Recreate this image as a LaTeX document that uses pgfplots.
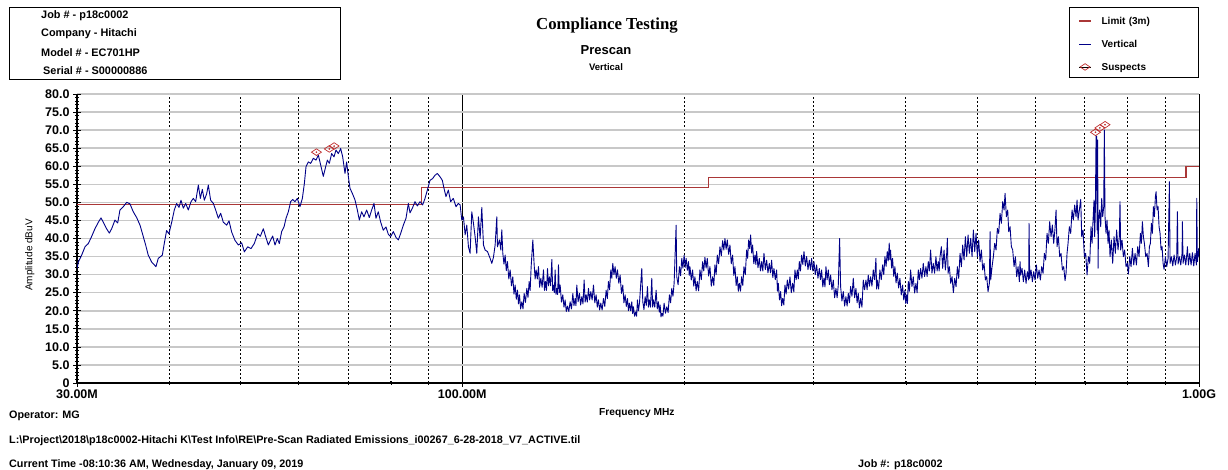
\documentclass[border=0pt]{standalone}
\usepackage{fontspec}
\setmainfont{Liberation Sans}
\newfontfamily\titlefont{Liberation Serif}
\usepackage{pgfplots}
\pgfplotsset{compat=1.18}
\definecolor{limitred}{RGB}{170,55,55}
\definecolor{tracecol}{RGB}{0,0,135}
\definecolor{suspred}{RGB}{190,45,45}
\definecolor{gridgray}{RGB}{200,200,200}
\pgfplotsset{
  shortline/.style={legend image code/.code={\draw[##1] (0pt,-1.5pt) -- (12pt,-1.5pt);}},
  markonly/.style={legend image code/.code={\path (0pt,-1.5pt) -- (12pt,-1.5pt); \draw[##1] plot coordinates {(6pt,-1.5pt)};}},
}
\begin{document}
\begin{tikzpicture}[x=1pt,y=1pt]
\path[use as bounding box] (0,0) rectangle (1228,470);
% info box
\draw[line width=0.9pt] (9,463) rectangle (340,391);
\begin{scope}[every node/.style={anchor=west,inner sep=0pt,font=\fontsize{10.9}{12}\selectfont\bfseries}]
\node at (41,454) {Job \# - p18c0002};
\node at (41,436) {Company - Hitachi};
\node at (41,417.5) {Model \# - EC701HP};
\node at (43,399) {Serial \# - S00000886};
\end{scope}
% titles
\node[inner sep=0pt,font=\fontsize{16.8}{20}\selectfont\titlefont\bfseries] at (607,444) {Compliance Testing};
\node[inner sep=0pt,font=\fontsize{13}{15}\selectfont\bfseries] at (606,420) {Prescan};
\node[inner sep=0pt,font=\fontsize{9.5}{11}\selectfont\bfseries] at (606,403) {Vertical};
% footer
\begin{scope}[every node/.style={anchor=west,inner sep=0pt,font=\fontsize{10.8}{12}\selectfont\bfseries}]
\node at (9,54) {Operator: MG};
\node at (9,29) {L:\textbackslash Project\textbackslash 2018\textbackslash p18c0002-Hitachi K\textbackslash Test Info\textbackslash RE\textbackslash Pre-Scan Radiated Emissions\_i00267\_6-28-2018\_V7\_ACTIVE.til};
\node at (9,5) {Current Time -08:10:36 AM, Wednesday, January 09, 2019};
\node at (858,5) {Job \#: p18c0002};
\end{scope}
\begin{axis}[
  at={(77pt,87pt)}, anchor=south west,
  width=1122pt, height=289pt, scale only axis,
  xmode=log, xmin=30, xmax=1000, ymin=0, ymax=80,
  axis x line*=bottom, axis y line*=left,
  x axis line style={line width=1.5pt},
  y axis line style={line width=0.8pt},
  xtick={30,100,1000}, xticklabels={30.00M,100.00M,1.00G},
  minor xtick={40,50,60,70,80,90,200,300,400,500,600,700,800,900},
  ytick={0,5,...,80},
  yticklabels={0,5.0,10.0,15.0,20.0,25.0,30.0,35.0,40.0,45.0,50.0,55.0,60.0,65.0,70.0,75.0,80.0},
  minor y tick num=4,
  tick align=center, major tick length=8pt, minor tick length=4pt,
  tick style={black, line width=0.7pt},
  xmajorgrids, xminorgrids, ymajorgrids,
  major x grid style={black, line width=1.1pt},
  minor x grid style={black, line width=0.9pt, dash pattern=on 2pt off 2pt},
  major y grid style={gridgray, line width=1.6pt},
  tick label style={font=\fontsize{12.5}{14}\selectfont\bfseries},
  xticklabel style={yshift=1pt},
  xlabel={Frequency MHz},
  xlabel style={at={(axis description cs:0.499,-0.104)}, anchor=center, font=\fontsize{10.2}{12}\selectfont\bfseries},
  ylabel={Amplitude dBuV},
  ylabel style={at={(axis description cs:-0.042,0.443)}, anchor=center, font=\fontsize{10}{12}\selectfont},
  legend style={at={(axis description cs:1,1.301)}, anchor=north east, draw=black, line width=0.9pt,
    font=\fontsize{10}{12}\selectfont\bfseries, row sep=13pt, column sep=8pt, inner xsep=9pt, inner ysep=7pt,
    nodes={text width=86pt, align=left, inner ysep=0pt, text height=10pt, text depth=0pt}},
  legend cell align=left,
]
\addplot[limitred, line width=1.1pt, shortline] table[row sep=\\] {
x y \\ 30 49.5 \\ 88 49.5 \\ 88 54 \\ 216 54 \\ 216 56.9 \\ 960 56.9 \\ 960 60 \\ 1000 60 \\
};
\addlegendentry{Limit (3m)}
\addplot[tracecol, line width=0.9pt, line join=round, shortline] table[row sep=\\] {
x y \\
30.00 31.7 \\ 30.13 33.5 \\ 30.44 35.4 \\ 30.76 37.7 \\ 31.08 38.6 \\ 31.41 40.6 \\ 31.73 42.7 \\ 32.07 44.5 \\
32.34 45.7 \\ 32.57 44.5 \\ 32.91 42.7 \\ 33.19 41.5 \\ 33.43 42.7 \\ 33.78 45.1 \\ 34.07 44.3 \\ 34.31 47.9 \\
34.67 48.8 \\ 35.04 50.0 \\ 35.40 49.6 \\ 35.77 47.4 \\ 36.15 45.8 \\ 36.53 43.7 \\ 36.91 40.5 \\ 37.18 38.2 \\
37.48 35.4 \\ 37.88 33.5 \\ 38.40 32.2 \\ 38.68 34.5 \\ 39.17 35.4 \\ 39.41 38.6 \\ 39.70 42.2 \\ 39.99 41.3 \\
40.33 44.5 \\ 40.66 47.9 \\ 40.96 49.7 \\ 41.26 48.6 \\ 41.52 50.6 \\ 41.82 48.4 \\ 42.13 49.7 \\ 42.48 47.9 \\
42.84 50.2 \\ 43.15 51.1 \\ 43.47 50.2 \\ 43.83 54.8 \\ 44.11 51.1 \\ 44.38 53.6 \\ 44.66 50.6 \\ 44.99 52.4 \\
45.22 54.8 \\ 45.55 50.6 \\ 45.94 49.7 \\ 46.27 47.9 \\ 46.66 45.6 \\ 47.00 47.0 \\ 47.39 44.5 \\ 47.89 43.7 \\
48.24 44.9 \\ 48.64 41.8 \\ 49.15 39.5 \\ 49.67 38.2 \\ 50.19 38.8 \\ 50.61 36.3 \\ 51.14 37.7 \\ 51.67 37.2 \\
52.21 38.6 \\ 52.76 41.3 \\ 53.20 40.6 \\ 53.70 42.7 \\ 54.10 40.5 \\ 54.55 38.2 \\
54.83 39.2 \\ 55.29 40.7 \\ 55.70 38.2 \\ 56.10 40.0 \\ 56.46 38.6 \\ 56.87 41.9 \\ 57.29 43.2 \\ 57.65 45.6 \\
58.07 47.4 \\ 58.49 50.2 \\ 58.86 50.8 \\ 59.29 50.2 \\ 59.73 51.1 \\ 60.22 48.8 \\ 60.67 51.1 \\ 61.05 55.2 \\
61.37 59.9 \\ 61.82 61.2 \\ 62.27 60.8 \\ 62.79 62.2 \\ 63.32 61.7 \\ 63.78 63.1 \\ 64.25 60.3 \\ 64.78 57.2 \\
65.26 59.9 \\ 65.60 61.7 \\ 66.01 60.8 \\ 66.49 63.5 \\ 66.98 62.6 \\ 67.40 64.5 \\ 67.89 63.5 \\ 68.39 64.9 \\
68.82 62.6 \\ 69.32 58.0 \\ 69.68 61.2 \\ 70.05 57.1 \\ 70.41 53.9 \\ 70.93 52.5 \\ 71.52 50.7 \\ 72.05 47.9 \\
72.50 45.1 \\ 73.03 47.4 \\ 73.56 46.0 \\ 74.18 47.9 \\ 74.80 45.8 \\ 75.35 47.9 \\ 75.90 49.7 \\ 76.37 45.6 \\
76.93 47.4 \\ 77.49 44.6 \\ 78.14 42.3 \\ 78.80 43.2 \\ 79.37 41.2 \\ 79.95 40.5 \\ 80.62 41.9 \\ 81.30 40.3 \\
81.89 39.6 \\ 82.49 41.4 \\ 83.18 43.7 \\ 83.88 45.6 \\ 84.49 49.7 \\ 84.93 47.1 \\ 85.64 48.6 \\ 86.27 50.2 \\
86.90 49.0 \\ 87.63 50.2 \\ 88.36 49.3 \\ 89.01 51.1 \\ 89.66 53.4 \\ 90.41 56.1 \\ 91.16 56.6 \\ 91.83 57.5 \\
92.50 58.0 \\ 93.28 57.1 \\ 93.96 56.1 \\ 94.45 53.9 \\ 95.04 51.6 \\ 95.74 53.4 \\ 96.44 50.2 \\ 97.24 51.1 \\
98.06 48.8 \\ 98.77 49.7 \\
99.33 49.3 \\ 99.85 45.1 \\ 100.37 46.0 \\ 100.90 41.0 \\ 101.42 43.7 \\ 101.95 37.7 \\ 102.48 35.9 \\ 103.02 47.4 \\
103.56 44.2 \\ 104.10 40.5 \\ 104.64 35.9 \\ 105.19 46.0 \\ 105.74 40.0 \\ 106.29 48.6 \\ 106.85 38.2 \\ 107.41 36.8 \\
108.19 36.4 \\ 109.10 34.5 \\ 109.67 33.1 \\ 110.24 34.8 \\ 110.82 38.2 \\ 111.40 46.0 \\ 111.63 37.7 \\ 112.33 39.6 \\
112.80 36.8 \\ 113.15 42.4 \\ 113.51 35.9 \\ 113.92 32.9 \\ 114.34 35.4 \\ 114.75 31.1 \\ 115.17 33.6 \\ 115.65 28.8 \\
116.14 31.3 \\ 116.62 26.9 \\ 117.11 29.4 \\ 117.54 24.6 \\ 117.97 27.1 \\ 118.40 23.2 \\ 118.83 25.7 \\ 119.20 21.9 \\
119.58 24.4 \\ 120.01 20.5 \\ 120.45 22.5 \\ 120.90 20.5 \\ 121.34 24.8 \\ 121.84 22.3 \\ 122.35 26.2 \\ 122.80 23.7 \\
123.25 28.1 \\ 123.63 25.6 \\ 124.02 32.2 \\ 124.67 39.6 \\ 125.19 32.7 \\ 125.58 28.8 \\ 125.97 31.3 \\ 126.43 28.8 \\
126.89 32.2 \\ 127.35 26.5 \\ 127.82 29.0 \\ 128.35 26.5 \\ 128.89 31.3 \\ 129.30 25.6 \\ 129.70 28.1 \\ 130.11 25.6 \\
130.52 31.7 \\ 130.92 26.9 \\ 131.33 29.4 \\ 131.80 26.9 \\ 132.30 34.2 \\ 132.65 25.6 \\ 132.99 27.1 \\ 133.33 25.0 \\
133.68 31.3 \\ 134.03 24.5 \\ 134.38 26.2 \\ 134.73 24.5 \\ 135.08 32.7 \\ 135.43 25.0 \\ 135.79 27.1 \\ 136.35 22.4 \\
136.92 24.4 \\ 137.42 21.0 \\ 137.92 23.0 \\ 138.42 19.8 \\ 138.93 21.3 \\ 139.51 19.8 \\ 140.09 22.5 \\ 140.68 20.5 \\
141.27 24.8 \\ 141.78 21.4 \\ 142.30 23.4 \\ 142.67 21.4 \\ 143.04 27.1 \\ 143.64 22.5 \\ 144.24 24.8 \\ 144.77 21.6 \\
145.30 23.9 \\ 145.83 21.9 \\ 146.36 28.5 \\ 146.82 22.4 \\ 147.28 24.4 \\ 147.82 22.4 \\ 148.36 26.2 \\ 148.90 23.0 \\
149.44 25.3 \\ 150.06 23.0 \\ 150.69 27.1 \\ 151.32 22.2 \\ 151.95 24.4 \\ 152.50 21.0 \\ 153.06 23.0 \\ 153.62 20.2 \\
154.18 22.1 \\ 154.82 20.2 \\ 155.47 23.4 \\ 156.12 21.2 \\ 156.77 25.7 \\ 157.35 23.4 \\ 157.92 28.1 \\ 158.50 25.8 \\
159.08 31.3 \\ 159.58 29.0 \\ 160.07 33.1 \\ 160.65 30.0 \\ 161.24 32.2 \\ 161.84 29.0 \\ 162.43 31.3 \\ 163.11 27.6 \\
163.79 29.9 \\ 164.47 24.8 \\ 165.15 27.1 \\ 165.75 22.2 \\ 166.36 24.4 \\ 166.97 21.2 \\ 167.58 23.4 \\ 168.10 20.0 \\
168.63 22.1 \\ 169.25 20.0 \\ 169.87 22.5 \\ 170.31 19.2 \\ 170.75 21.1 \\ 171.38 18.5 \\ 172.00 19.7 \\ 172.45 18.5 \\
172.90 23.0 \\ 173.45 20.0 \\ 173.99 22.1 \\ 175.26 31.7 \\ 175.81 22.5 \\ 176.45 20.3 \\ 177.10 23.9 \\ 177.75 21.5 \\
178.39 26.7 \\ 178.95 21.0 \\ 179.51 23.0 \\ 180.10 21.0 \\ 180.82 29.0 \\ 181.30 21.0 \\ 181.77 23.0 \\ 182.53 21.0 \\
183.29 25.7 \\ 183.96 20.5 \\ 184.63 22.5 \\ 185.10 19.6 \\ 185.60 21.6 \\ 186.10 18.3 \\ 186.57 19.3 \\ 187.25 18.5 \\
187.93 22.1 \\ 188.72 19.3 \\ 189.51 21.1 \\ 190.30 19.5 \\ 191.09 24.4 \\ 191.79 22.2 \\ 192.49 26.2 \\ 193.20 24.0 \\
193.90 27.6 \\ 195.11 43.7 \\ 195.52 29.4 \\ 196.34 27.2 \\ 197.16 32.2 \\ 197.88 29.7 \\ 198.60 34.5 \\ 199.32 31.8 \\
200.05 35.4 \\ 200.68 32.0 \\ 201.31 34.5 \\ 202.05 31.2 \\ 202.78 33.6 \\ 203.25 29.8 \\
203.71 32.2 \\ 204.56 28.5 \\ 205.41 31.3 \\ 206.16 26.8 \\ 206.92 29.4 \\ 207.68 25.5 \\ 208.43 28.1 \\ 209.30 25.5 \\
210.18 31.3 \\ 211.06 28.6 \\ 211.94 33.6 \\ 212.70 31.0 \\ 213.49 34.8 \\ 214.27 31.8 \\ 215.05 34.5 \\ 215.95 29.6 \\
216.86 32.2 \\ 217.76 26.8 \\ 218.67 29.4 \\ 219.47 27.0 \\ 220.27 32.7 \\ 221.08 30.0 \\ 221.89 35.4 \\ 222.82 33.0 \\
223.75 37.7 \\ 224.68 35.2 \\ 225.62 39.4 \\ 226.45 36.8 \\ 227.27 40.0 \\ 228.10 37.0 \\ 228.94 39.6 \\ 229.90 35.6 \\
230.85 38.2 \\ 231.80 33.0 \\ 232.78 35.4 \\ 233.63 29.8 \\ 234.49 32.2 \\ 235.35 27.0 \\ 236.20 29.4 \\ 236.95 25.4 \\
237.69 27.6 \\ 238.56 25.4 \\ 239.43 29.4 \\ 240.30 27.0 \\ 241.18 32.2 \\ 242.19 30.0 \\ 243.20 36.8 \\ 243.96 34.5 \\
244.73 39.6 \\ 245.50 37.2 \\ 246.26 41.0 \\ 247.03 36.0 \\ 247.81 38.2 \\ 248.70 33.0 \\ 249.62 35.4 \\ 250.27 32.8 \\
250.92 36.4 \\ 251.97 31.9 \\ 253.02 34.5 \\ 253.95 31.0 \\ 254.88 33.6 \\ 255.81 31.0 \\ 256.74 35.9 \\ 257.80 31.4 \\
258.89 34.0 \\ 259.97 30.5 \\ 261.05 33.1 \\ 262.00 30.5 \\ 262.96 34.0 \\ 263.92 29.2 \\ 264.89 31.7 \\ 266.00 28.6 \\
267.11 31.3 \\ 267.80 25.4 \\ 268.50 27.6 \\ 269.50 23.0 \\ 270.47 25.3 \\ 271.30 21.4 \\ 272.16 23.4 \\ 273.15 21.6 \\
274.15 27.1 \\ 275.15 24.6 \\ 276.16 28.5 \\ 277.30 26.0 \\ 278.47 29.4 \\ 279.63 25.0 \\ 280.80 27.6 \\ 281.83 25.2 \\
282.86 31.3 \\ 283.90 28.6 \\ 284.93 31.3 \\ 285.82 28.8 \\ 286.71 33.6 \\ 287.76 31.0 \\ 288.81 35.4 \\ 289.87 32.8 \\
290.93 36.4 \\ 292.15 32.4 \\ 293.36 35.0 \\ 294.60 31.4 \\ 295.82 34.0 \\ 296.90 31.4 \\ 297.98 34.5 \\ 299.07 31.0 \\
300.16 33.6 \\ 301.40 30.0 \\ 302.67 32.7 \\ 303.93 29.0 \\ 305.20 31.7 \\ 306.32 28.6 \\ 307.44 31.3 \\ 308.56 26.6 \\
309.69 29.0 \\ 310.66 26.6 \\ 311.63 32.2 \\ 312.77 28.6 \\ 313.91 31.3 \\ 315.06 27.2 \\ 316.21 29.9 \\ 317.53 25.8 \\
318.85 28.5 \\ 320.18 23.6 \\ 321.52 26.2 \\ 322.70 23.6 \\ 323.87 27.1 \\ 325.22 40.0 \\ 326.24 26.7 \\ 327.60 22.7 \\
328.97 25.3 \\ 330.35 21.3 \\ 331.72 23.9 \\ 332.93 21.3 \\ 334.15 24.8 \\ 335.37 22.2 \\ 336.59 26.7 \\ 338.00 24.0 \\
339.41 29.0 \\ 340.83 23.6 \\ 342.25 26.2 \\ 343.50 22.2 \\ 344.75 24.8 \\ 346.00 20.8 \\ 347.28 23.4 \\ 348.73 21.0 \\
350.18 28.5 \\ 351.65 25.8 \\ 353.11 28.5 \\ 354.40 25.8 \\ 355.70 29.9 \\ 357.00 26.8 \\ 358.30 29.4 \\ 359.80 26.8 \\
361.29 31.3 \\ 362.80 28.6 \\ 364.32 34.5 \\ 365.08 26.0 \\ 365.84 28.5 \\ 367.37 26.0 \\ 368.90 31.3 \\ 370.44 28.6 \\
371.98 32.7 \\ 373.35 30.0 \\ 374.71 35.0 \\ 376.08 32.3 \\ 377.45 36.4 \\ 378.63 33.8 \\ 379.82 38.7 \\ 380.60 34.2 \\
381.40 36.8 \\ 382.60 31.8 \\ 383.80 34.5 \\ 385.20 29.5 \\ 386.60 32.2 \\ 388.00 27.7 \\ 389.43 30.4 \\ 391.06 26.3 \\
392.69 29.0 \\ 394.33 24.4 \\ 395.97 27.1 \\ 397.42 23.0 \\ 398.87 25.7 \\ 399.90 22.0 \\ 400.95 24.4 \\ 402.00 22.0 \\
403.05 28.1 \\ 404.50 25.4 \\ 406.00 31.3 \\ 407.70 26.7 \\ 409.39 29.4 \\ 411.10 24.9 \\ 412.82 27.6 \\ 414.33 25.0 \\
415.84 31.3 \\ 417.36 28.6 \\ 418.88 31.7 \\ 420.63 29.0 \\ 422.38 33.1 \\ 424.15 29.5 \\ 425.92 32.2 \\ 427.47 29.5 \\
429.03 33.6 \\ 430.60 31.0 \\ 432.17 36.8 \\ 434.00 30.4 \\ 435.79 33.1 \\ 437.60 30.4 \\ 439.43 35.0 \\ 441.04 31.0 \\
442.65 33.6 \\ 443.90 31.0 \\
445.10 34.97 \\ 446.96 37.74 \\ 448.82 31.74 \\ 450.70 36.82 \\ 452.58 31.28 \\ 454.47 35.89 \\ 455.42 40.05 \\ 456.37 30.36 \\
458.28 32.20 \\ 460.19 27.59 \\ 462.11 29.44 \\ 464.04 25.01 \\ 465.98 28.97 \\ 467.92 26.67 \\ 469.88 32.20 \\ 471.84 28.97 \\
473.81 35.89 \\ 475.79 32.20 \\ 477.77 38.20 \\ 479.77 34.05 \\ 481.77 40.51 \\ 483.79 34.97 \\ 485.81 40.97 \\ 487.83 35.89 \\
489.87 40.05 \\ 491.92 34.97 \\ 493.97 42.35 \\ 496.04 36.36 \\ 498.11 41.43 \\ 500.19 34.97 \\ 502.28 39.58 \\ 504.37 33.59 \\
506.48 36.82 \\ 508.59 31.28 \\ 510.72 33.13 \\ 512.85 28.51 \\ 514.99 29.44 \\ 517.14 25.28 \\ 519.30 27.59 \\ 520.39 41.89 \\
521.47 28.51 \\ 523.65 32.20 \\ 525.84 34.97 \\ 528.03 38.66 \\ 530.24 36.82 \\ 532.45 42.81 \\ 534.67 41.43 \\ 536.91 46.97 \\
539.15 44.20 \\ 541.40 50.20 \\ 543.66 47.89 \\ 545.36 52.50 \\ 547.64 46.04 \\ 549.93 47.89 \\ 551.65 41.89 \\ 553.95 43.28 \\
556.27 37.74 \\ 558.59 36.82 \\ 560.92 32.20 \\ 563.26 34.97 \\ 565.62 29.44 \\ 567.98 32.20 \\ 570.35 28.05 \\ 571.54 33.59 \\
572.73 29.90 \\ 575.12 31.74 \\ 577.52 28.05 \\ 579.94 31.28 \\ 582.36 27.59 \\ 584.79 30.82 \\ 587.23 28.51 \\ 587.84 44.20 \\
589.07 28.97 \\ 591.53 31.28 \\ 594.00 28.05 \\ 596.48 30.82 \\ 598.97 28.51 \\ 601.47 32.66 \\ 603.98 29.00 \\ 606.51 31.28 \\
609.04 28.51 \\ 611.58 32.20 \\ 614.14 30.36 \\ 616.70 35.89 \\ 619.28 34.05 \\ 621.86 41.43 \\ 624.46 38.66 \\ 627.07 44.66 \\
629.69 40.51 \\ 632.32 43.74 \\ 634.96 38.66 \\ 637.61 42.81 \\ 639.61 47.89 \\ 641.61 37.74 \\ 644.29 40.51 \\ 646.98 34.97 \\
649.68 35.89 \\ 652.39 31.28 \\ 655.12 32.20 \\ 657.85 28.33 \\ 659.91 30.36 \\ 661.98 35.89 \\ 664.05 38.66 \\ 666.83 43.28 \\
669.61 41.43 \\ 672.41 47.89 \\ 675.22 45.12 \\ 678.04 49.27 \\ 680.87 46.04 \\ 683.00 50.66 \\ 685.14 45.12 \\ 688.00 47.89 \\
690.87 50.84 \\ 693.04 40.51 \\ 695.93 42.35 \\ 698.84 34.97 \\ 701.75 35.89 \\ 704.68 29.90 \\ 707.63 34.97 \\ 710.58 33.13 \\
713.55 43.28 \\ 715.78 38.66 \\ 718.03 45.12 \\ 720.27 50.66 \\ 721.78 40.51 \\ 723.28 47.89 \\ 724.79 68.37 \\ 726.30 68.37 \\
727.06 42.35 \\ 728.57 67.27 \\ 729.33 31.74 \\ 730.85 45.12 \\ 733.14 47.89 \\ 735.44 43.28 \\ 737.74 51.12 \\ 740.05 46.04 \\
742.37 48.81 \\ 743.92 70.04 \\ 745.47 46.04 \\ 747.80 41.43 \\ 750.14 45.12 \\ 752.49 38.66 \\ 754.85 42.35 \\ 757.21 34.97 \\
760.38 39.58 \\ 763.55 33.13 \\ 766.74 40.51 \\ 769.94 35.89 \\ 773.16 42.35 \\ 776.38 36.82 \\ 779.63 40.51 \\ 781.25 50.20 \\
782.88 36.82 \\ 786.15 39.58 \\ 789.43 34.97 \\ 792.73 36.82 \\ 796.04 32.20 \\ 799.37 33.13 \\ 801.87 30.17 \\ 805.22 34.97 \\
808.58 32.20 \\ 811.96 37.28 \\ 815.35 32.66 \\ 818.75 35.89 \\ 822.17 32.66 \\ 825.61 37.74 \\ 829.05 34.97 \\ 832.52 41.43 \\
835.12 38.66 \\ 837.74 44.66 \\ 840.36 40.51 \\ 842.99 38.66 \\ 846.51 34.97 \\ 850.05 35.89 \\ 853.60 32.20 \\ 856.27 37.74 \\
858.95 38.66 \\ 861.64 44.20 \\ 864.34 41.43 \\ 867.05 48.81 \\ 869.76 46.04 \\ 872.49 51.58 \\ 874.31 52.96 \\ 877.04 47.89 \\
879.79 48.81 \\ 882.55 43.28 \\ 885.31 41.43 \\ 888.08 36.82 \\ 890.86 37.74 \\ 893.65 33.13 \\ 896.45 31.46 \\ 900.20 34.97 \\
903.96 32.20 \\ 907.73 34.51 \\ 911.52 55.73 \\ 913.42 33.13 \\ 917.24 34.97 \\ 921.07 32.39 \\ 924.91 35.43 \\ 928.77 32.66 \\
932.65 34.97 \\ 934.60 47.43 \\ 936.55 32.94 \\ 940.46 34.97 \\ 944.39 32.66 \\ 948.33 35.89 \\ 949.32 44.66 \\ 951.30 33.13 \\
955.27 35.43 \\ 959.26 32.66 \\ 963.27 36.36 \\ 964.27 37.74 \\ 967.29 32.66 \\ 971.33 35.89 \\ 975.38 32.66 \\ 979.46 36.08 \\
983.55 32.39 \\ 987.65 35.89 \\ 991.78 32.66 \\ 992.81 51.12 \\ 994.88 33.59 \\ 999.04 37.28 \\ 1000.0 34.97 \\
};
\addlegendentry{Vertical}
\addplot[only marks, mark=diamond, mark size=3.3pt, mark options={draw=suspred, fill=white, line width=0.7pt, xscale=2.0}, markonly] table[row sep=\\] {
x y \\ 63.4 63.9 \\ 66.0 64.8 \\ 67.0 65.6 \\ 723.5 69.4 \\ 733.5 70.6 \\ 745.5 71.5 \\
};
\addlegendentry{Suspects}
\addplot[only marks, mark=*, mark size=0.6pt, suspred, forget plot] table[row sep=\\] {
x y \\ 63.4 63.9 \\ 66.0 64.8 \\ 67.0 65.6 \\ 723.5 69.4 \\ 733.5 70.6 \\ 745.5 71.5 \\
};
\end{axis}
\end{tikzpicture}
\end{document}
